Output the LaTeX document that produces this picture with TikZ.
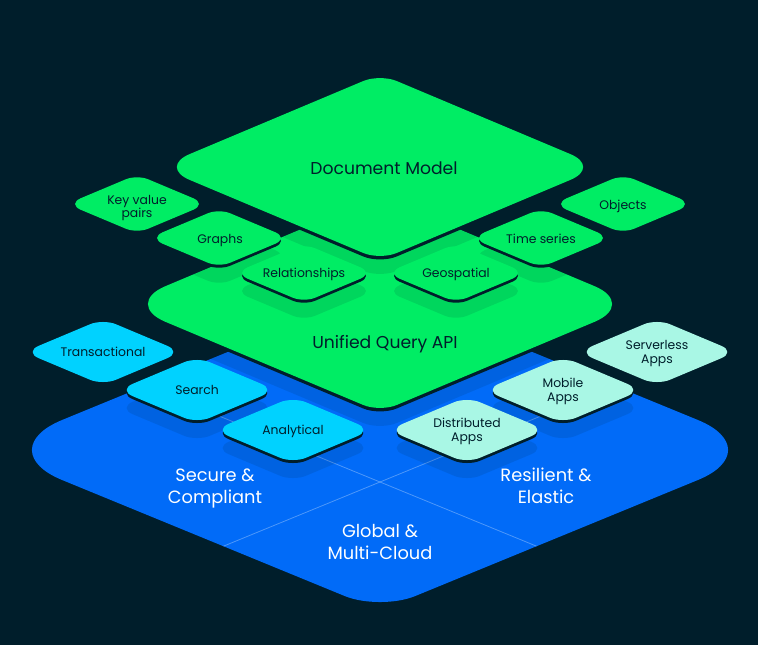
\documentclass[tikz,border=0pt]{standalone}
\usepackage{fontspec}
\setmainfont{Poppins}
\usetikzlibrary{calc}
\definecolor{bgc}{HTML}{001E2B}
\definecolor{grn}{HTML}{00ED64}
\definecolor{blu}{HTML}{016BF8}
\definecolor{cyn}{HTML}{00D2FF}
\definecolor{mnt}{HTML}{A9F7E5}
% #1 options, #2 cx, #3 cy, #4 A, #5 B, #6 side radius, #7 top radius
\newcommand{\rdia}[7]{%
 \coordinate (qL) at (#2-#4,#3);
 \coordinate (qT) at (#2,#3-#5);
 \coordinate (qR) at (#2+#4,#3);
 \coordinate (qB) at (#2,#3+#5);
 \path[#1] ($(qL)!#6pt!(qT)$) -- ($(qT)!#7pt!(qL)$)
   .. controls ($(qT)!#7*0.45pt!(qL)$) and ($(qT)!#7*0.45pt!(qR)$) .. ($(qT)!#7pt!(qR)$)
   -- ($(qR)!#6pt!(qT)$)
   .. controls ($(qR)!#6*0.45pt!(qT)$) and ($(qR)!#6*0.45pt!(qB)$) .. ($(qR)!#6pt!(qB)$)
   -- ($(qB)!#7pt!(qR)$)
   .. controls ($(qB)!#7*0.45pt!(qR)$) and ($(qB)!#7*0.45pt!(qL)$) .. ($(qB)!#7pt!(qL)$)
   -- ($(qL)!#6pt!(qB)$)
   .. controls ($(qL)!#6*0.45pt!(qB)$) and ($(qL)!#6*0.45pt!(qT)$) .. ($(qL)!#6pt!(qT)$)
   -- cycle;
}
% green small tile: #1 cx, #2 cy
\newcommand{\gtile}[2]{%
 \rdia{fill=bgc}{#1}{#2+3}{70}{29.4}{15}{12}
 \rdia{fill=grn}{#1}{#2}{70}{29.4}{15}{12}
}
\newcommand{\gshadow}[2]{\rdia{shadowfill}{#1}{#2+18}{70}{29.4}{15}{12}}
% cyan / mint small tile: #1 colour, #2 cx, #3 cy
\newcommand{\ctile}[3]{%
 \rdia{fill=bgc}{#2}{#3+3}{79}{33.2}{16}{14}
 \rdia{fill=#1}{#2}{#3}{79}{33.2}{16}{14}
}
\newcommand{\cshadow}[2]{\rdia{shadowfill}{#1}{#2+18}{79}{33.2}{16}{14}}
\begin{document}
\begin{tikzpicture}[x=1pt,y=-1pt,
  lbl/.style={text=bgc, align=center, inner sep=0pt, text depth=0pt},
  smalllbl/.style={lbl, font=\fontsize{12.4}{13.5}\selectfont},
  biglbl/.style={lbl, font=\fontsize{17.2}{21}\selectfont},
  bluelbl/.style={lbl, text=white, font=\fontsize{17.8}{22}\selectfont},
  shadowfill/.style={fill=bgc, fill opacity=0.11},
  gridline/.style={draw=white, draw opacity=0.3, line width=0.8pt},
]
\fill[bgc] (0,0) rectangle (758,645);
\useasboundingbox (0,0) rectangle (758,645);

% ---------- blue base ----------
\rdia{fill=blu}{380}{450}{391}{160.5}{79}{38}
\begin{scope}
 \rdia{clip}{380}{450}{391}{160.5}{79}{38}
 \coordinate (la1) at (130,379.5);
 \coordinate (la2) at (560,555.8);
 \coordinate (lb1) at (630,379.5);
 \coordinate (lb2) at (200,555.8);
 \draw[gridline] (la1) -- (la2);
 \draw[gridline] (lb1) -- (lb2);
 \rdia{shadowfill}{380}{322}{257}{108}{46}{18}
 \cshadow{103}{352}
 \cshadow{197}{390}
 \cshadow{293}{430}
 \cshadow{657}{352}
 \cshadow{563}{390}
 \cshadow{467}{430}
\end{scope}

\node[bluelbl] (sec) at (215,486) {Secure \&\\Compliant};
\node[bluelbl] (res) at (546,486) {Resilient \&\\Elastic};
\node[bluelbl] (glo) at (380,542) {Global \&\\Multi-Cloud};

% ---------- cyan / mint tiles ----------
\ctile{cyn}{103}{352}
\ctile{cyn}{197}{390}
\ctile{cyn}{293}{430}
\ctile{mnt}{657}{352}
\ctile{mnt}{563}{390}
\ctile{mnt}{467}{430}
\node[smalllbl] (tra) at (103,352) {Transactional};
\node[smalllbl] (sea) at (197,390) {Search};
\node[smalllbl] (ana) at (293,430) {Analytical};
\node[smalllbl] (srv) at (657,352) {Serverless\\Apps};
\node[smalllbl] (mob) at (563,390) {Mobile\\Apps};
\node[smalllbl] (dis) at (467,430) {Distributed\\Apps};

% ---------- unified query API ----------
\rdia{fill=bgc}{380}{307.5}{257}{108}{46}{18}
\rdia{fill=grn}{380}{304}{257}{108}{46}{18}
\begin{scope}
 \rdia{clip}{380}{304}{257}{108}{46}{18}
 \rdia{shadowfill}{380}{185}{221}{93}{33}{18}
 \gshadow{219}{238}
 \gshadow{541}{238}
 \gshadow{304}{273}
 \gshadow{456}{273}
\end{scope}
\node[biglbl] (uq) at (385,342) {Unified Query API};

% ---------- document model ----------
\rdia{fill=bgc}{380}{170.5}{221}{93}{33}{18}
\rdia{fill=grn}{380}{167}{221}{93}{33}{18}
\node[biglbl] (dm) at (384,168) {Document Model};

% ---------- green tiles ----------
\gtile{137}{204}
\gtile{623}{204}
\gtile{219}{238}
\gtile{541}{238}
\gtile{304}{273}
\gtile{456}{273}
\node[smalllbl] (kv) at (137,206.5) {Key value\\pairs};
\node[smalllbl] (obj) at (623,205) {Objects};
\node[smalllbl] (gra) at (220,239) {Graphs};
\node[smalllbl] (tim) at (541,239) {Time series};
\node[smalllbl] (rel) at (304,273) {Relationships};
\node[smalllbl] (geo) at (456,273) {Geospatial};
\end{tikzpicture}
\end{document}
